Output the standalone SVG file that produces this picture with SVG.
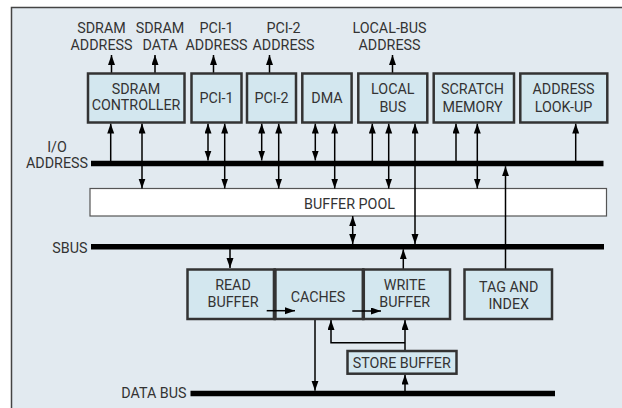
<svg xmlns="http://www.w3.org/2000/svg" width="622" height="408" viewBox="0 0 622 408">
<defs>
<marker id="ah" markerUnits="userSpaceOnUse" markerWidth="10" markerHeight="8" refX="10" refY="3.5" orient="auto-start-reverse">
<path d="M0,0 L10,3.5 L0,7 z" fill="#000"/>
</marker>
<style>
.t{font-family:Roboto,"Liberation Sans",Arial,sans-serif;font-size:14.3px;fill:#333;text-anchor:middle}
.te{font-family:Roboto,"Liberation Sans",Arial,sans-serif;font-size:14.3px;fill:#333;text-anchor:end}
.box{fill:#d3e7ef;stroke:#333;stroke-width:2.5}
.bus{stroke:#000;stroke-width:5.5;fill:none}
.c{stroke:#000;stroke-width:1.5;fill:none}
.a{marker-end:url(#ah)}
.b{marker-start:url(#ah);marker-end:url(#ah)}
</style>
</defs>
<rect x="0" y="0" width="622" height="408" fill="#fff"/>
<rect x="11.5" y="7.5" width="620" height="410" fill="#e2eaf0" stroke="#444" stroke-width="1.5"/>

<g id="top-labels">
<text class="t" x="101.5" y="33">SDRAM</text><text class="t" x="101.5" y="50">ADDRESS</text>
<text class="t" x="160" y="33">SDRAM</text><text class="t" x="160" y="50">DATA</text>
<text class="t" x="216.5" y="33">PCI-1</text><text class="t" x="216.5" y="50">ADDRESS</text>
<text class="t" x="283.5" y="33">PCI-2</text><text class="t" x="283.5" y="50">ADDRESS</text>
<text class="t" x="389.5" y="33">LOCAL-BUS</text><text class="t" x="389.5" y="50">ADDRESS</text>
</g>

<g id="buffer-pool">
<rect x="90" y="188.5" width="516.5" height="27.5" fill="#fff" stroke="#555" stroke-width="1.2"/>
<text class="t" x="349.5" y="209">BUFFER POOL</text>
</g>

<g id="connectors">
<line class="c a" x1="111.5" y1="73" x2="111.5" y2="55"/>
<line class="c a" x1="155" y1="73" x2="155" y2="55"/>
<line class="c a" x1="213.5" y1="73" x2="213.5" y2="55"/>
<line class="c a" x1="269.5" y1="73" x2="269.5" y2="55"/>
<line class="c a" x1="392.5" y1="73" x2="392.5" y2="55"/>

<line class="c a" x1="110.7" y1="161" x2="110.7" y2="123.5"/>
<line class="c b" x1="142" y1="123.5" x2="142" y2="188.5"/>
<line class="c b" x1="208" y1="123.5" x2="208" y2="160.5"/>
<line class="c b" x1="224.7" y1="123.5" x2="224.7" y2="188.5"/>
<line class="c b" x1="261.7" y1="123.5" x2="261.7" y2="160.5"/>
<line class="c b" x1="278.7" y1="123.5" x2="278.7" y2="188.5"/>
<line class="c b" x1="315.3" y1="123.5" x2="315.3" y2="160.5"/>
<line class="c b" x1="334.7" y1="123.5" x2="334.7" y2="188.5"/>
<line class="c a" x1="372.3" y1="161" x2="372.3" y2="123.5"/>
<line class="c b" x1="388.7" y1="123.5" x2="388.7" y2="188.5"/>
<line class="c b" x1="415" y1="123.5" x2="415" y2="244"/>
<line class="c a" x1="456" y1="161" x2="456" y2="123.5"/>
<line class="c b" x1="477.3" y1="123.5" x2="477.3" y2="188.5"/>
<line class="c a" x1="575.7" y1="161" x2="575.7" y2="123.5"/>
<line class="c a" x1="505.5" y1="269" x2="505.5" y2="166.2"/>

<line class="c b" x1="352.7" y1="216" x2="352.7" y2="244"/>
<line class="c a" x1="230" y1="249" x2="230" y2="268"/>
<line class="c a" x1="403.3" y1="269" x2="403.3" y2="249.3"/>
<line class="c a" x1="315" y1="320" x2="315" y2="390.8"/>
<line class="c a" x1="405" y1="391" x2="405" y2="374.5"/>
<line class="c a" x1="405" y1="350" x2="405" y2="320"/>
<polyline class="c a" points="405,342.7 331,342.7 331,320"/>
</g>

<g id="buses">
<line class="bus" x1="91" y1="163.4" x2="603.5" y2="163.4"/>
<line class="bus" x1="91" y1="246.7" x2="604" y2="246.7"/>
<line class="bus" x1="190.5" y1="393.5" x2="555" y2="393.5"/>
<text class="t" x="57" y="151.5">I/O</text>
<text class="t" x="57" y="168">ADDRESS</text>
<text class="te" x="87.5" y="253.3">SBUS</text>
<text class="te" x="186.5" y="398">DATA BUS</text>
</g>

<g id="sdram-controller">
<rect class="box" x="88" y="73.5" width="96.5" height="49"/>
<text class="t" x="136" y="93.5">SDRAM</text><text class="t" x="136" y="110.3">CONTROLLER</text>
</g>
<g id="pci-1">
<rect class="box" x="191.5" y="73.5" width="50" height="49"/>
<text class="t" x="216.5" y="102.8">PCI-1</text>
</g>
<g id="pci-2">
<rect class="box" x="247" y="73.5" width="49" height="49"/>
<text class="t" x="271.5" y="102.8">PCI-2</text>
</g>
<g id="dma">
<rect class="box" x="302.3" y="73.5" width="49.3" height="49"/>
<text class="t" x="327" y="102.8">DMA</text>
</g>
<g id="local-bus">
<rect class="box" x="358.3" y="73.5" width="69" height="49"/>
<text class="t" x="392.8" y="94.3">LOCAL</text><text class="t" x="392.8" y="111.5">BUS</text>
</g>
<g id="scratch-memory">
<rect class="box" x="433.7" y="73.5" width="80.3" height="49"/>
<text class="t" x="472.5" y="94.3">SCRATCH</text><text class="t" x="472.5" y="111.8">MEMORY</text>
</g>
<g id="address-look-up">
<rect class="box" x="520.3" y="73.5" width="87" height="49"/>
<text class="t" x="563.5" y="94.3">ADDRESS</text><text class="t" x="563.5" y="111.8">LOOK-UP</text>
</g>

<g id="read-buffer">
<rect class="box" x="187.5" y="269.5" width="87.2" height="49.5"/>
<text class="t" x="233" y="290">READ</text><text class="t" x="233" y="306.7">BUFFER</text>
</g>
<g id="caches">
<rect class="box" x="274.7" y="269.5" width="88.6" height="49.5"/>
<text class="t" x="318" y="302">CACHES</text>
</g>
<g id="write-buffer">
<rect class="box" x="363.3" y="269.5" width="86.7" height="49.5"/>
<text class="t" x="404.7" y="290">WRITE</text><text class="t" x="404.7" y="307.3">BUFFER</text>
</g>
<line x1="274.7" y1="269" x2="274.7" y2="319.5" stroke="#333" stroke-width="4"/>
<line x1="363.3" y1="269" x2="363.3" y2="319.5" stroke="#333" stroke-width="3.5"/>
<g id="tag-and-index">
<rect class="box" x="464.5" y="269.5" width="87.5" height="49.5"/>
<text class="t" x="508.7" y="291.5">TAG AND</text><text class="t" x="508.7" y="309">INDEX</text>
</g>
<g id="store-buffer">
<rect class="box" x="347.5" y="351" width="109" height="22.7"/>
<text class="t" x="401.7" y="367.5">STORE BUFFER</text>
</g>
<g id="box-arrows">
<line class="c a" x1="266.7" y1="310.7" x2="295" y2="310.7"/>
<line class="c a" x1="352.3" y1="311" x2="381" y2="311"/>
</g>
</svg>
